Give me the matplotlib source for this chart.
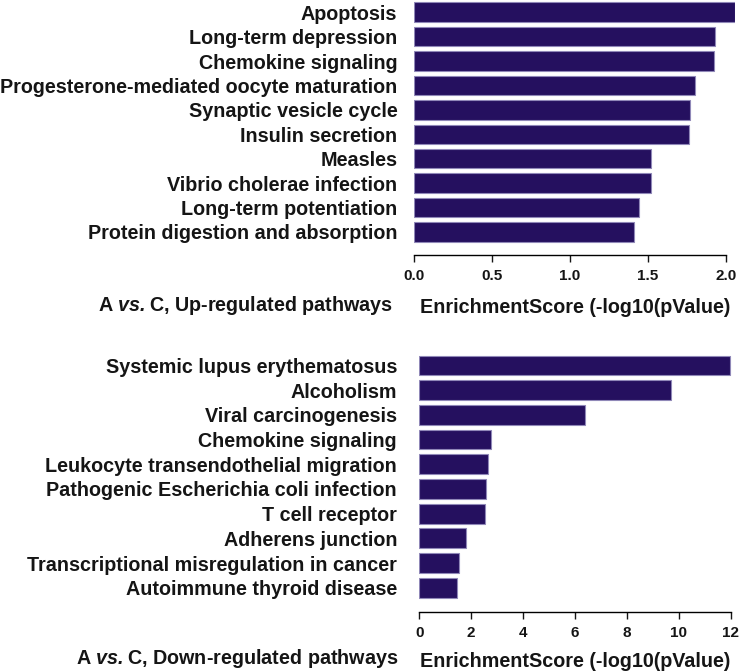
import matplotlib.pyplot as plt
from matplotlib.ticker import FormatStrFormatter

plt.rcParams["font.family"] = ["Liberation Sans", "DejaVu Sans"]
plt.rcParams["mathtext.fontset"] = "custom"
plt.rcParams["mathtext.bfit"] = "Liberation Sans:italic:bold"

up_pathways = [
    "Apoptosis",
    "Long-term depression",
    "Chemokine signaling",
    "Progesterone-mediated oocyte maturation",
    "Synaptic vesicle cycle",
    "Insulin secretion",
    "Measles",
    "Vibrio cholerae infection",
    "Long-term potentiation",
    "Protein digestion and absorption",
]
up_scores = [2.06, 1.93, 1.92, 1.80, 1.77, 1.76, 1.52, 1.52, 1.44, 1.41]
up_ticks = [0.0, 0.5, 1.0, 1.5, 2.0]

down_pathways = [
    "Systemic lupus erythematosus",
    "Alcoholism",
    "Viral carcinogenesis",
    "Chemokine signaling",
    "Leukocyte transendothelial migration",
    "Pathogenic Escherichia coli infection",
    "T cell receptor",
    "Adherens junction",
    "Transcriptional misregulation in cancer",
    "Autoimmune thyroid disease",
]
down_scores = [11.97, 9.69, 6.39, 2.75, 2.63, 2.56, 2.54, 1.80, 1.53, 1.46]
down_ticks = [0, 2, 4, 6, 8, 10, 12]

BAR = "#25105f"
EDGE = "#9088b8"
TXT = "#151515"
W, H = 739, 672
FS = 14.2


def rect(left, top, right, bottom):
    # pixel box -> figure fraction
    return [left / W, 1 - bottom / H, (right - left) / W, (bottom - top) / H]


def panel(ax, names, scores, ticks, xlim, ylim, fmt, pad, lpad, title,
          title_xy):
    pos = list(range(len(names)))
    ax.barh(pos, scores, height=0.8, color=BAR, edgecolor=EDGE, linewidth=0.8)
    ax.set_xlim(*xlim)
    ax.set_ylim(*ylim)
    for s in ["top", "right", "left"]:
        ax.spines[s].set_visible(False)
    ax.spines["bottom"].set_bounds(ticks[0], ticks[-1])
    ax.spines["bottom"].set_linewidth(1.0)
    ax.set_xticks(ticks)
    ax.xaxis.set_major_formatter(FormatStrFormatter(fmt))
    ax.tick_params(axis="x", length=5, width=1.0, pad=5, labelsize=11,
                   colors=TXT)
    for lab in ax.get_xticklabels():
        lab.set_fontweight("bold")
    ax.set_yticks(pos)
    ax.set_yticklabels(names, fontsize=FS, fontweight="bold", color=TXT)
    ax.tick_params(axis="y", length=0, pad=pad)
    ax.set_xlabel("EnrichmentScore (-log10(pValue)", fontsize=FS,
                  fontweight="bold", color=TXT, labelpad=lpad)
    fig.text(title_xy[0] / W, 1 - title_xy[1] / H, title, ha="right",
             va="center", fontsize=FS, fontweight="bold", color=TXT)


fig = plt.figure(figsize=(7.39, 6.72), dpi=100)

ax_up = fig.add_axes(rect(414, 0, 735.4, 255))
panel(ax_up, up_pathways, up_scores, up_ticks, (0, 2.06), (9.943, -0.5),
      "%.1f", 12, 11, r"A $\mathbfit{vs.}$C, Up-regulated pathways",
      (393, 305))

ax_down = fig.add_axes(rect(419.3, 340, 732, 612))
panel(ax_down, down_pathways, down_scores, down_ticks, (0, 12.05),
      (9.98, -1.03), "%d", 16, 9,
      r"A $\mathbfit{vs.}$C, Down-regulated pathways", (398, 659))

fig.savefig("out.png", dpi=100)
